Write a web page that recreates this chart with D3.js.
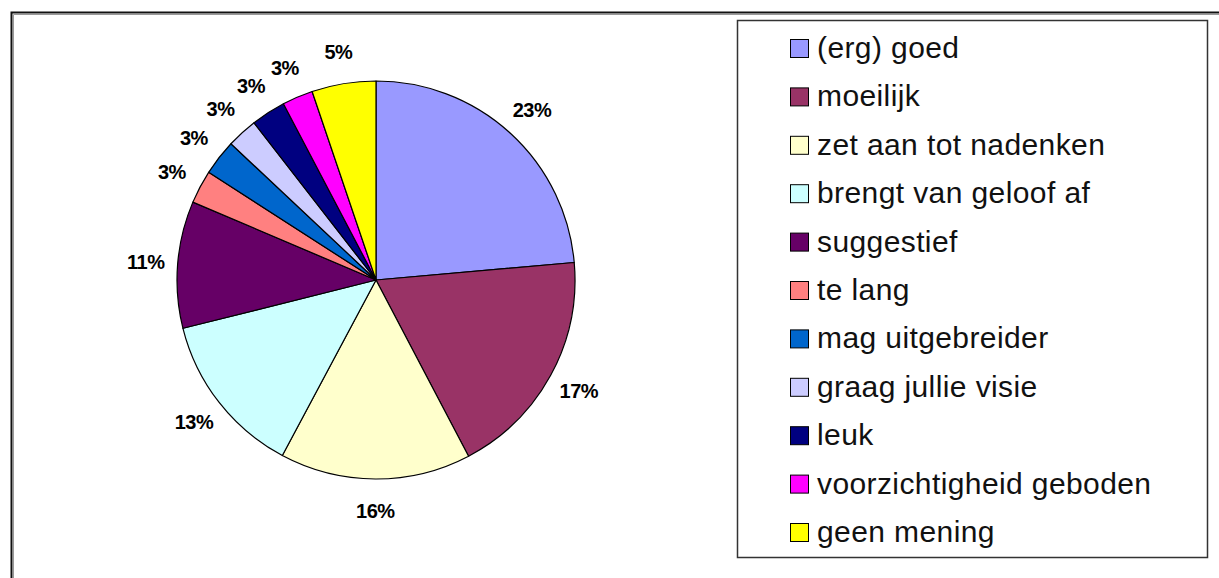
<!DOCTYPE html>
<html>
<head>
<meta charset="utf-8">
<script src="https://cdn.jsdelivr.net/npm/d3@7"></script>
<style>
  html, body { margin: 0; padding: 0; background: #fff; }
  svg { display: block; }
</style>
</head>
<body>
<div id="chart"></div>
<script>
// categories in legend order (also the clockwise slice order, starting at 12 o'clock)
const categories = [
  '(erg) goed', 'moeilijk', 'zet aan tot nadenken', 'brengt van geloof af', 'suggestief',
  'te lang', 'mag uitgebreider', 'graag jullie visie', 'leuk', 'voorzichtigheid geboden', 'geen mening'
];
// slice shares (%)
const shares = [23.6, 18.7, 15.5, 13.3, 10.3, 2.7, 2.9, 2.5, 2.8, 2.5, 5.2];
// data labels as printed on the chart
const pctLabels = ['23%', '17%', '16%', '13%', '11%', '3%', '3%', '3%', '3%', '3%', '5%'];
const colors = [
  '#9999ff', '#993366', '#ffffcc', '#ccffff', '#660066',
  '#ff8080', '#0066cc', '#ccccff', '#000080', '#ff00ff', '#ffff00'
];

const W = 1219, H = 578;
const CX = 376, CY = 280, R = 199;
const LABEL_R = 231;

const svg = d3.select('#chart').append('svg')
  .attr('width', W)
  .attr('height', H);

// outer chart frame (runs past the right/bottom edge of the crop)
svg.append('rect')
  .attr('x', 11.5).attr('y', 12.5)
  .attr('width', 1240).attr('height', 600)
  .attr('fill', '#fff')
  .attr('stroke', '#111')
  .attr('stroke-width', 2);
svg.append('path')
  .attr('d', 'M13.5,620 V14.5 H1240')
  .attr('fill', 'none')
  .attr('stroke', '#999')
  .attr('stroke-width', 1);

const data = categories.map((c, i) => ({ name: c, value: shares[i], label: pctLabels[i], color: colors[i] }));

const pie = d3.pie().sort(null).value(d => d.value);
const arc = d3.arc().innerRadius(0).outerRadius(R);
const labelArc = d3.arc().innerRadius(LABEL_R).outerRadius(LABEL_R);

const g = svg.append('g').attr('transform', `translate(${CX},${CY})`);
const arcs = pie(data);

g.selectAll('path.slice')
  .data(arcs)
  .join('path')
  .attr('class', 'slice')
  .attr('d', arc)
  .attr('fill', d => d.data.color)
  .attr('stroke', '#000')
  .attr('stroke-width', 1.2)
  .attr('stroke-linejoin', 'round');

g.selectAll('text.pct')
  .data(arcs)
  .join('text')
  .attr('class', 'pct')
  .attr('transform', d => `translate(${labelArc.centroid(d)})`)
  .attr('text-anchor', 'middle')
  .attr('dy', '0.36em')
  .attr('font-family', '"Liberation Sans", Arial, sans-serif')
  .attr('font-weight', 'bold')
  .attr('font-size', 20)
  .attr('letter-spacing', -0.5)
  .attr('fill', '#000')
  .text(d => d.data.label);

// legend
const legend = svg.append('g');
legend.append('rect')
  .attr('x', 737.5).attr('y', 20.5)
  .attr('width', 470).attr('height', 537)
  .attr('fill', '#fff')
  .attr('stroke', '#333')
  .attr('stroke-width', 1.5);

const rowY = d3.scalePoint().domain(categories).range([58, 542]);

const items = legend.selectAll('g.item')
  .data(data)
  .join('g')
  .attr('class', 'item')
  .attr('transform', d => `translate(0,${rowY(d.name)})`);

items.append('rect')
  .attr('x', 790.5).attr('y', -18.5)
  .attr('width', 18).attr('height', 18)
  .attr('fill', d => d.color)
  .attr('stroke', '#000')
  .attr('stroke-width', 1);

items.append('text')
  .attr('x', 817)
  .attr('y', 0)
  .attr('font-family', '"Liberation Sans", Arial, sans-serif')
  .attr('font-size', 30)
  .attr('letter-spacing', 0.4)
  .attr('fill', '#111')
  .text(d => d.name);
</script>
</body>
</html>
